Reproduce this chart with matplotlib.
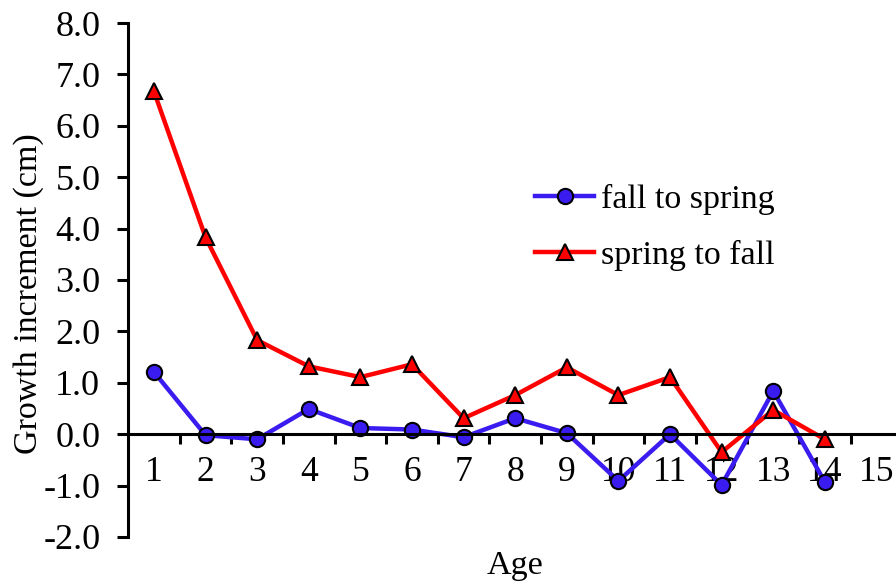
import numpy as np
import matplotlib
matplotlib.use("Agg")
from matplotlib import pyplot as plt

ages = list(range(1, 16))
fall_to_spring = [1.21, -0.02, -0.10, 0.49, 0.12, 0.09, -0.06, 0.31, 0.02, -0.91, 0.00, -0.99, 0.84, -0.93]
spring_to_fall = [6.67, 3.83, 1.83, 1.32, 1.11, 1.36, 0.31, 0.76, 1.30, 0.76, 1.11, -0.35, 0.47, -0.10]
yticks = [-2, -1, 0, 1, 2, 3, 4, 5, 6, 7, 8]

plt.rcParams["font.family"] = ["Liberation Serif", "DejaVu Serif"]
fs = 24.5

fig = plt.figure(figsize=(8.96, 5.83), dpi=100)
ax = fig.add_axes([0.143, 0.079, 0.864, 0.8815])

x1 = np.arange(1, len(fall_to_spring) + 1)
x2 = np.arange(1, len(spring_to_fall) + 1)
ax.plot(x1, fall_to_spring, color="#3a1cf0", lw=3.2, marker="o", ms=11,
        mfc="#3a1cf0", mec="black", mew=1.5, label="fall to spring")
ax.plot(x2, spring_to_fall, color="#ff0000", lw=3.2, marker="^", ms=12,
        mfc="#ff0000", mec="black", mew=1.5, label="spring to fall")

ax.set_xlim(0.5, 15.5)
ax.set_ylim(-2, 8)
ax.spines["top"].set_visible(False)
ax.spines["right"].set_visible(False)
ax.spines["bottom"].set_position(("data", 0))
ax.spines["bottom"].set_linewidth(2.2)
ax.spines["left"].set_linewidth(2.2)

ax.set_yticks(yticks)
ax.set_yticklabels([f"{v:.1f}" for v in yticks])
ax.tick_params(axis="y", direction="out", length=8, width=2.2, labelsize=26, pad=12)

# ticks sit between the categories, labels at the centres
ax.set_xticks(np.arange(1.5, 15.5, 1))
ax.set_xticklabels([])
ax.tick_params(axis="x", which="major", direction="out", length=7, width=2.2)
ax.set_xticks(ages, minor=True)
ax.set_xticklabels([str(a) for a in ages], minor=True)
ax.tick_params(axis="x", which="minor", length=0, labelsize=25.5, pad=16)

ax.set_ylabel("Growth increment (cm)", fontsize=fs, va="center")
ax.yaxis.set_label_coords(-0.128, 0.473)
ax.set_xlabel("Age", fontsize=fs, va="center")
ax.xaxis.set_label_coords(0.5, -0.057)

ax.legend(loc="center left", bbox_to_anchor=(0.597, 0.61), bbox_transform=fig.transFigure,
          frameon=False, fontsize=fs, handlelength=1.75, labelspacing=0.75,
          handletextpad=0.2, borderpad=0, borderaxespad=0)

fig.savefig("out.png", dpi=100)
